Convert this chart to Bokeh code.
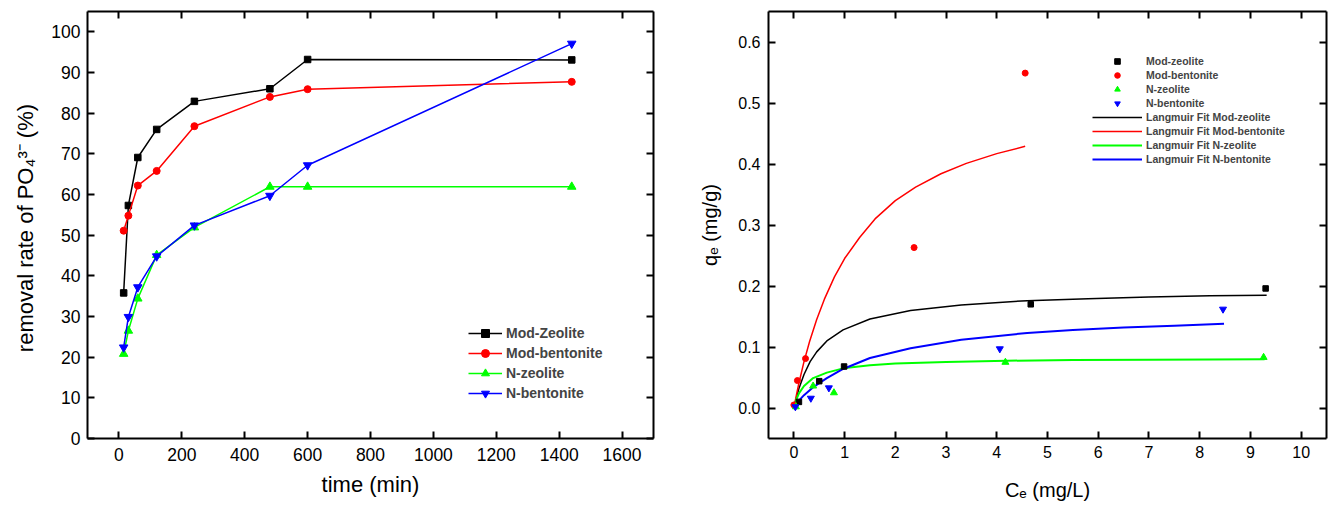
from bokeh.plotting import figure
from bokeh.layouts import row
from bokeh.models import LinearAxis, FixedTicker, PrintfTickFormatter, Legend, LegendItem
from bokeh.embed import file_html
from bokeh.resources import INLINE

# ---------------- data: left chart (kinetics) ----------------
time_min = [15, 30, 60, 120, 240, 480, 600, 1440]
mod_zeolite_rate = [35.8, 57.3, 69.1, 76.0, 82.9, 86.0, 93.2, 93.1]
mod_bentonite_rate = [51.1, 54.8, 62.2, 65.8, 76.8, 84.0, 85.9, 87.7]
n_zeolite_rate = [20.8, 26.5, 34.4, 45.1, 51.9, 61.9, 61.9, 61.9]
n_bentonite_rate = [22.4, 29.9, 37.2, 44.8, 52.4, 59.7, 67.2, 97.1]
left_x_ticks = [0, 200, 400, 600, 800, 1000, 1200, 1400, 1600]
left_y_ticks = [0, 10, 20, 30, 40, 50, 60, 70, 80, 90, 100]

# ---------------- data: right chart (isotherms) ----------------
mz_ce = [0.10, 0.50, 0.99, 4.67, 9.30]
mz_qe = [0.010, 0.044, 0.068, 0.170, 0.196]
mb_ce = [0.0, 0.07, 0.23, 2.37, 4.56]
mb_qe = [0.005, 0.045, 0.081, 0.263, 0.549]
nz_ce = [0.04, 0.38, 0.79, 4.17, 9.26]
nz_qe = [0.002, 0.036, 0.025, 0.075, 0.083]
nb_ce = [0.03, 0.335, 0.69, 4.06, 8.46]
nb_qe = [0.002, 0.016, 0.033, 0.097, 0.162]

# Langmuir fit curves
fit_mz_ce = [0.0, 0.05, 0.1, 0.2, 0.32, 0.45, 0.65, 0.97, 1.5, 2.3, 3.3, 4.6, 5.8, 7.0, 8.2, 9.32]
fit_mz_qe = [0.0, 0.017, 0.032, 0.055, 0.076, 0.092, 0.110, 0.128, 0.146, 0.160, 0.169, 0.176, 0.179, 0.182, 0.184, 0.185]
fit_mb_ce = [0.0, 0.05, 0.1, 0.2, 0.31, 0.45, 0.6, 0.8, 1.0, 1.3, 1.6, 2.0, 2.4, 2.9, 3.4, 4.0, 4.56]
fit_mb_qe = [0.0, 0.021, 0.041, 0.076, 0.109, 0.145, 0.178, 0.215, 0.245, 0.280, 0.310, 0.340, 0.362, 0.384, 0.401, 0.417, 0.429]
fit_nz_ce = [0.0, 0.05, 0.1, 0.2, 0.38, 0.65, 0.97, 1.5, 2.0, 3.0, 4.2, 5.5, 7.0, 8.2, 9.28]
fit_nz_qe = [0.0, 0.014, 0.024, 0.036, 0.049, 0.058, 0.065, 0.070, 0.073, 0.0755, 0.0775, 0.0785, 0.079, 0.0795, 0.080]
fit_nb_ce = [0.0, 0.1, 0.2, 0.38, 0.65, 0.97, 1.5, 2.3, 3.3, 4.6, 5.5, 6.5, 7.5, 8.48]
fit_nb_qe = [0.0, 0.012, 0.021, 0.034, 0.049, 0.064, 0.082, 0.098, 0.112, 0.123, 0.128, 0.132, 0.135, 0.138]
right_x_ticks = [0, 1, 2, 3, 4, 5, 6, 7, 8, 9, 10]
right_y_ticks = [0.0, 0.1, 0.2, 0.3, 0.4, 0.5, 0.6]

FONT = "Liberation Sans"
BLACK, RED, GREEN, BLUE = "#000000", "#FF0000", "#00FF00", "#0000FF"


def style(p, xticks, yticks, tick_font, fmt=None):
    p.grid.visible = False
    p.outline_line_color = None
    xa, ya = p.below[0], p.left[0]
    for ax in (xa, ya):
        ax.axis_line_width = 2
        ax.axis_line_color = "black"
        ax.major_tick_in = 7
        ax.major_tick_out = 0
        ax.major_tick_line_width = 2
        ax.minor_tick_line_color = None
        ax.major_label_text_font = FONT
        ax.major_label_text_font_size = tick_font
        ax.major_label_text_color = "black"
        ax.axis_label_text_font = FONT
        ax.axis_label_text_font_style = "normal"
        ax.axis_label_text_color = "black"
    xa.ticker = FixedTicker(ticks=xticks)
    ya.ticker = FixedTicker(ticks=yticks)
    if fmt:
        ya.formatter = PrintfTickFormatter(format=fmt)
    for loc, ticks in (("above", xticks), ("right", yticks)):
        ax = LinearAxis(ticker=FixedTicker(ticks=ticks), major_label_text_font_size="0px",
                        major_label_text_color=None, major_label_standoff=0,
                        major_tick_in=7, major_tick_out=0, major_tick_line_width=2,
                        axis_line_width=2, minor_tick_line_color=None)
        p.add_layout(ax, loc)
    return xa, ya


# ---------------- left figure ----------------
p1 = figure(width=688, height=508, x_range=(-100, 1700), y_range=(0, 105),
            output_backend="svg", toolbar_location=None,
            min_border_left=87, min_border_right=35, min_border_top=11, min_border_bottom=70)
xa1, ya1 = style(p1, left_x_ticks, left_y_ticks, "17.5px")
xa1.axis_label = "time (min)"
ya1.axis_label = "removal rate of  PO\u2084\u00b3\u207b (%)"
xa1.axis_label_text_font_size = "22px"
ya1.axis_label_text_font_size = "22px"
xa1.major_label_standoff = 9
ya1.major_label_standoff = 7
xa1.axis_label_standoff = 8
ya1.axis_label_standoff = 10

series = [
    ("Mod-Zeolite", mod_zeolite_rate, BLACK, "square", 6.5),
    ("Mod-bentonite", mod_bentonite_rate, RED, "circle", 7),
    ("N-zeolite", n_zeolite_rate, GREEN, "triangle", 8.5),
    ("N-bentonite", n_bentonite_rate, BLUE, "inverted_triangle", 8.5),
]
items = []
for name, vals, col, mk, sz in series:
    ln = p1.line(time_min, vals, line_color=col, line_width=1.5)
    sc = p1.scatter(time_min, vals, marker=mk, size=sz, fill_color=col, line_color=col)
    items.append(LegendItem(label=name, renderers=[ln, sc]))
leg1 = Legend(items=items, location=(381, 35), padding=0, margin=0, spacing=0,
              glyph_width=34, glyph_height=20, label_height=20, label_standoff=4,
              label_text_font=FONT, label_text_font_size="14px", label_text_font_style="bold",
              background_fill_alpha=0, border_line_color=None)
p1.add_layout(leg1)

# ---------------- right figure ----------------
p2 = figure(width=641, height=508, x_range=(-0.5, 10.5), y_range=(-0.05, 0.65),
            output_backend="svg", toolbar_location=None,
            min_border_left=80, min_border_right=3, min_border_top=11, min_border_bottom=70)
xa2, ya2 = style(p2, right_x_ticks, right_y_ticks, "16px", fmt="%.1f")
xa2.axis_label = "C\u2091 (mg/L)"
ya2.axis_label = "q\u2091 (mg/g)"
xa2.axis_label_text_font_size = "20px"
ya2.axis_label_text_font_size = "20px"
xa2.major_label_standoff = 7
ya2.major_label_standoff = 8
xa2.axis_label_standoff = 18
ya2.axis_label_standoff = 14

pts = [
    ("Mod-zeolite", mz_ce, mz_qe, BLACK, "square", 5.5),
    ("Mod-bentonite", mb_ce, mb_qe, RED, "circle", 6),
    ("N-zeolite", nz_ce, nz_qe, GREEN, "triangle", 7),
    ("N-bentonite", nb_ce, nb_qe, BLUE, "inverted_triangle", 7),
]
fits = [
    ("Langmuir Fit Mod-zeolite", fit_mz_ce, fit_mz_qe, BLACK, 1.5),
    ("Langmuir Fit Mod-bentonite", fit_mb_ce, fit_mb_qe, RED, 1.5),
    ("Langmuir Fit N-zeolite", fit_nz_ce, fit_nz_qe, GREEN, 2),
    ("Langmuir Fit N-bentonite", fit_nb_ce, fit_nb_qe, BLUE, 2),
]
items2 = []
fit_items = []
for name, xs, ys, col, w in fits:
    ln = p2.line(xs, ys, line_color=col, line_width=w)
    fit_items.append(LegendItem(label=name, renderers=[ln]))
for name, xs, ys, col, mk, sz in pts:
    sc = p2.scatter(xs, ys, marker=mk, size=sz, fill_color=col, line_color=col)
    items2.append(LegendItem(label=name, renderers=[sc]))
leg2 = Legend(items=items2 + fit_items, location=(324, 272), padding=0, margin=0, spacing=0,
              glyph_width=50, glyph_height=14, label_height=14, label_standoff=4,
              label_text_font=FONT, label_text_font_size="10.5px", label_text_font_style="bold",
              background_fill_alpha=0, border_line_color=None)
p2.add_layout(leg2)

layout = row(p1, p2, spacing=0)
open("out.html", "w").write(file_html(layout, INLINE))
